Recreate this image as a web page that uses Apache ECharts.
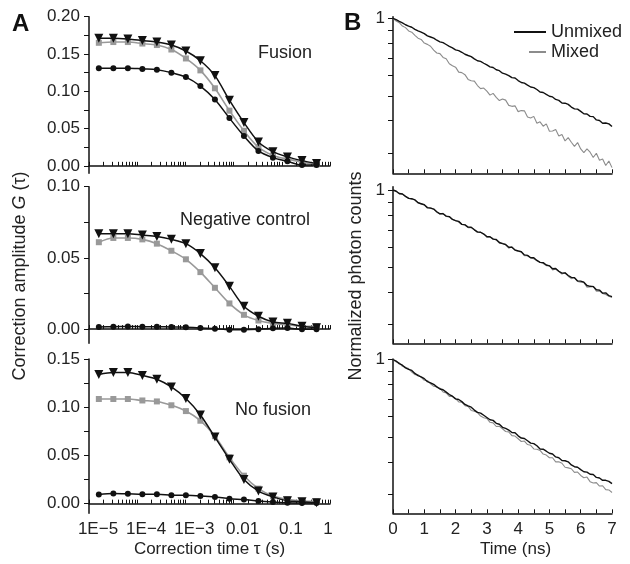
<!DOCTYPE html>
<html>
<head>
<meta charset="utf-8">
<script src="https://cdn.jsdelivr.net/npm/echarts@6/dist/echarts.min.js"></script>
<style>
html, body { margin: 0; padding: 0; background: #fff; }
#main { width: 630px; height: 564px; }
</style>
</head>
<body>
<div id="main"></div>
<script>
var myChart = echarts.init(document.getElementById('main'));
var FONT = 'Liberation Sans';

// ---- panel A: correlation curves ----
// lag times (s)
var tau = [1.6e-5, 3.2e-5, 6.4e-5, 1.28e-4, 2.56e-4, 5.12e-4, 1.024e-3, 2.048e-3,
  4.096e-3, 8.192e-3, 0.016384, 0.032768, 0.065536, 0.131072, 0.262144, 0.524288];

var fusTri  = [0.171, 0.171, 0.170, 0.168, 0.166, 0.162, 0.154, 0.141, 0.121, 0.088, 0.058, 0.032, 0.019, 0.012, 0.007, 0.003];
var fusSq   = [0.165, 0.166, 0.166, 0.164, 0.162, 0.156, 0.144, 0.128, 0.104, 0.074, 0.047, 0.025, 0.014, 0.009, 0.005, 0.002];
var fusCirc = [0.131, 0.131, 0.131, 0.130, 0.129, 0.125, 0.119, 0.107, 0.089, 0.064, 0.040, 0.020, 0.011, 0.006, 0.001, 0.001];

var negTri  = [0.067, 0.067, 0.067, 0.066, 0.065, 0.063, 0.060, 0.053, 0.043, 0.030, 0.016, 0.009, 0.005, 0.004, 0.002, 0.001];
var negSq   = [0.061, 0.064, 0.064, 0.063, 0.060, 0.055, 0.049, 0.040, 0.029, 0.018, 0.010, 0.006, 0.004, 0.003, 0.002, 0.002];
var negCirc = [0.0015, 0.0017, 0.0018, 0.0017, 0.0016, 0.0015, 0.0012, 0.0008, 0.0003, -0.0005, -0.0005, -0.0002, 0.0005, 0.0008, -0.0002, -0.0002];

var noTri   = [0.134, 0.136, 0.136, 0.133, 0.129, 0.121, 0.109, 0.092, 0.069, 0.046, 0.025, 0.013, 0.007, 0.003, 0.002, 0.001];
var noSq    = [0.1085, 0.1085, 0.1085, 0.107, 0.106, 0.102, 0.096, 0.086, 0.070, 0.048, 0.029, 0.0156, 0.008, 0.0045, 0.0027, 0.0024];
var noCirc  = [0.0094, 0.0105, 0.0102, 0.0097, 0.0097, 0.0088, 0.0086, 0.0079, 0.0069, 0.0052, 0.0042, 0.0027, 0.0017, 0.0010, 0.0006, 0.0006];

var aYMax = [0.20, 0.10, 0.15];
var aYLabels = [[0, 0.05, 0.10, 0.15, 0.20], [0, 0.05, 0.10], [0, 0.05, 0.10, 0.15]];
var aYTicks = [[0, 0.025, 0.05, 0.075, 0.10, 0.125, 0.15, 0.175, 0.20],
  [0, 0.025, 0.05, 0.075, 0.10], [0, 0.025, 0.05, 0.075, 0.10, 0.125, 0.15]];
var aXLabels = [1e-5, 1e-4, 1e-3, 0.01, 0.1, 1];
var panelNames = ['Fusion', 'Negative control', 'No fusion'];

// ---- panel B: fluorescence decays (normalized counts, 0.1 ns bins) ----
var tns = [0, 0.1, 0.2, 0.3, 0.4, 0.5, 0.6, 0.7, 0.8, 0.9, 1.0, 1.1, 1.2, 1.3, 1.4, 1.5, 1.6, 1.7, 1.8, 1.9,
  2.0, 2.1, 2.2, 2.3, 2.4, 2.5, 2.6, 2.7, 2.8, 2.9, 3.0, 3.1, 3.2, 3.3, 3.4, 3.5, 3.6, 3.7, 3.8, 3.9,
  4.0, 4.1, 4.2, 4.3, 4.4, 4.5, 4.6, 4.7, 4.8, 4.9, 5.0, 5.1, 5.2, 5.3, 5.4, 5.5, 5.6, 5.7, 5.8, 5.9,
  6.0, 6.1, 6.2, 6.3, 6.4, 6.5, 6.6, 6.7, 6.8, 6.9, 7.0];

var fusUnmixed = [1.000, .988, .972, .960, .944, .933, .923, .906, .893, .883, .872, .855, .846, .837, .822, .810, .804, .791, .778, .768,
  .754, .749, .738, .725, .717, .710, .696, .684, .680, .669, .659, .648, .644, .631, .626, .612, .607, .599, .588, .586,
  .573, .563, .560, .550, .541, .538, .529, .517, .515, .506, .498, .495, .484, .480, .469, .468, .463, .452, .445, .444,
  .435, .426, .425, .416, .415, .403, .401, .391, .392, .389, .380];
var fusMixed = [1.000, .976, .961, .933, .920, .893, .883, .859, .837, .828, .801, .792, .779, .752, .733, .729, .705, .696, .666, .654,
  .646, .618, .615, .604, .579, .572, .570, .548, .533, .536, .521, .503, .511, .493, .479, .486, .481, .459, .455, .457,
  .434, .438, .437, .414, .410, .416, .391, .396, .381, .389, .364, .365, .370, .349, .354, .334, .344, .330, .318, .329,
  .311, .301, .311, .302, .288, .299, .281, .284, .268, .279, .263];
var negUnmixed = [1.000, .989, .969, .965, .945, .928, .925, .915, .892, .884, .876, .854, .850, .843, .823, .808, .808, .791, .788, .768,
  .760, .755, .735, .732, .717, .716, .700, .687, .685, .674, .659, .658, .644, .642, .625, .619, .614, .599, .599, .584,
  .580, .575, .559, .557, .545, .545, .532, .523, .522, .511, .507, .494, .495, .483, .475, .476, .465, .457, .456, .443,
  .442, .438, .425, .422, .421, .409, .408, .397, .398, .388, .385];
var negMixed = [1.000, .991, .966, .966, .944, .930, .921, .916, .895, .882, .876, .851, .852, .844, .819, .807, .811, .789, .785, .770,
  .759, .751, .736, .734, .714, .714, .702, .683, .685, .675, .654, .657, .646, .639, .621, .620, .612, .594, .601, .583,
  .577, .576, .555, .555, .545, .540, .531, .524, .518, .508, .508, .489, .493, .482, .471, .477, .462, .452, .456, .441,
  .438, .437, .419, .420, .422, .404, .405, .396, .392, .386, .382];
var noUnmixed = [1.000, .987, .964, .951, .928, .916, .907, .883, .866, .856, .843, .820, .812, .801, .783, .768, .763, .747, .731, .720,
  .703, .699, .686, .669, .660, .653, .636, .623, .619, .607, .595, .583, .580, .565, .560, .545, .540, .532, .520, .519,
  .505, .495, .493, .483, .473, .471, .462, .449, .448, .440, .432, .429, .418, .415, .405, .404, .400, .389, .383, .381,
  .373, .366, .365, .358, .357, .348, .346, .339, .339, .336, .329];
var noMixed = [1.000, .979, .970, .941, .933, .922, .894, .874, .873, .852, .831, .829, .805, .787, .783, .774, .748, .742, .719, .718,
  .704, .684, .683, .662, .657, .634, .629, .622, .603, .594, .590, .570, .567, .549, .550, .538, .525, .523, .506, .504,
  .492, .480, .482, .467, .464, .449, .448, .443, .429, .425, .415, .415, .400, .400, .395, .381, .379, .376, .364, .365,
  .354, .347, .349, .335, .331, .332, .322, .323, .312, .311, .304];

var bXLabels = [0, 1, 2, 3, 4, 5, 6, 7];
var bXTicks = [0, 0.5, 1, 1.5, 2, 2.5, 3, 3.5, 4, 4.5, 5, 5.5, 6, 6.5, 7];
var bYTicks = [0.3, 0.4, 0.5, 0.6, 0.7, 0.8, 0.9, 1];
var bYMin = [0.25, 0.2533, 0.2523];
var bYMax = [1.0144, 1.030, 1.005];

function pairs(xs, ys) {
  return xs.map(function (x, i) { return [x, ys[i]]; });
}

// log minor ticks for the lag-time axis
var aXTicks = [];
for (var d = -5; d <= 0; d++) {
  for (var m = 1; m <= 9; m++) {
    if (d === 0 && m > 1) break;
    aXTicks.push(+(m * Math.pow(10, d)).toPrecision(3));
  }
}

var gridTop = [16.7, 186.7, 359];
var gridH = [156.6, 156.6, 154.3];
var axisLine = { show: true, lineStyle: { color: '#111', width: 1.5 } };
var txt = { fontFamily: FONT, fontSize: 17, color: '#222' };

var grids = [], xAxes = [], yAxes = [], series = [], titles = [];
var aData = [[fusTri, fusSq, fusCirc], [negTri, negSq, negCirc], [noTri, noSq, noCirc]];
var bData = [[fusUnmixed, fusMixed], [negUnmixed, negMixed], [noUnmixed, noMixed]];
var titleTop = [44, 211, 401];
var titleLeft = [258, 180, 235];

for (var i = 0; i < 3; i++) {
  var last = i === 2;
  // panel A grid
  grids.push({ left: 89, top: gridTop[i], width: 241, height: gridH[i] });
  xAxes.push({
    gridIndex: 2 * i, type: 'log', logBase: 10, min: 1e-5, max: 1,
    axisLine: axisLine, splitLine: { show: false },
    axisTick: { show: true, inside: true, length: 4, customValues: aXTicks, lineStyle: { color: '#111' } },
    axisLabel: {
      show: last, customValues: aXLabels, margin: 8,
      formatter: function (v) {
        if (v >= 1) return '{e|1}';
        if (v >= 0.01) return '{s|' + String(+v.toPrecision(2)) + '}';
        return '{s|1E\u2212' + Math.round(-Math.log10(v)) + '}';
      },
      rich: {
        s: { fontFamily: FONT, fontSize: 17, color: '#222', padding: [0, 0, 0, 18] },
        e: { fontFamily: FONT, fontSize: 17, color: '#222', padding: [0, 4, 0, 0] }
      }
    },
    name: last ? 'Correction time \u03c4 (s)' : '', nameLocation: 'middle', nameGap: 28,
    nameTextStyle: txt
  });
  yAxes.push({
    gridIndex: 2 * i, type: 'value', min: -0.01, max: aYMax[i],
    axisLine: axisLine, splitLine: { show: false },
    axisTick: { show: true, length: 5, customValues: aYTicks[i], lineStyle: { color: '#111' } },
    axisLabel: {
      customValues: aYLabels[i], margin: 9, fontFamily: FONT, fontSize: 17, color: '#222',
      formatter: function (v) { return v.toFixed(2); }
    },
    name: i === 1 ? '{a|Correction amplitude }{g|G}{a| (\u03c4)}' : '',
    nameLocation: 'middle', nameRotate: 90, nameGap: 60,
    nameTextStyle: {
      padding: [0, 22, 0, 0],
      rich: {
        a: { fontFamily: FONT, fontSize: 18, color: '#222' },
        g: { fontFamily: FONT, fontSize: 18, color: '#222', fontStyle: 'italic' }
      }
    }
  });
  var ad = aData[i];
  series.push({
    type: 'line', xAxisIndex: 2 * i, yAxisIndex: 2 * i, data: pairs(tau, ad[1]), smooth: 0.3,
    symbol: 'rect', symbolSize: 6, lineStyle: { color: '#999', width: 1.6 }, itemStyle: { color: '#999' },
    z: 2
  });
  series.push({
    type: 'line', xAxisIndex: 2 * i, yAxisIndex: 2 * i, data: pairs(tau, ad[2]), smooth: 0.3,
    symbol: 'circle', symbolSize: 6, lineStyle: { color: '#111', width: 1.5 }, itemStyle: { color: '#111' },
    z: 3
  });
  series.push({
    type: 'line', xAxisIndex: 2 * i, yAxisIndex: 2 * i, data: pairs(tau, ad[0]), smooth: 0.3,
    symbol: 'triangle', symbolRotate: 180, symbolSize: 9, lineStyle: { color: '#111', width: 1.5 }, itemStyle: { color: '#111' },
    z: 4
  });
  titles.push({
    text: panelNames[i], left: titleLeft[i], top: titleTop[i], padding: 0,
    textStyle: { fontFamily: FONT, fontSize: 18, fontWeight: 'normal', color: '#222' }
  });

  // panel B grid
  grids.push({ left: 393, top: gridTop[i], width: 219, height: gridH[i] });
  xAxes.push({
    gridIndex: 2 * i + 1, type: 'value', min: 0, max: 7,
    axisLine: axisLine, splitLine: { show: false },
    axisTick: { show: true, inside: true, length: 4, customValues: bXTicks, lineStyle: { color: '#111' } },
    axisLabel: { show: last, customValues: bXLabels, margin: 8, fontFamily: FONT, fontSize: 17, color: '#222' },
    name: last ? 'Time (ns)' : '', nameLocation: 'middle', nameGap: 28,
    nameTextStyle: { fontFamily: FONT, fontSize: 17, color: '#222', padding: [0, 0, 0, 26] }
  });
  yAxes.push({
    gridIndex: 2 * i + 1, type: 'log', logBase: 10, min: bYMin[i], max: bYMax[i],
    axisLine: axisLine, splitLine: { show: false },
    axisTick: { show: true, length: 5, customValues: bYTicks, lineStyle: { color: '#111' } },
    axisLabel: { customValues: [1], margin: 8, fontFamily: FONT, fontSize: 17, color: '#222',
      formatter: function () { return '1'; } },
    name: i === 1 ? 'Normalized photon counts' : '',
    nameLocation: 'middle', nameRotate: 90, nameGap: 28,
    nameTextStyle: { fontFamily: FONT, fontSize: 18, color: '#222', padding: [0, 22, 0, 0] }
  });
  series.push({
    name: 'Mixed', type: 'line', xAxisIndex: 2 * i + 1, yAxisIndex: 2 * i + 1, data: pairs(tns, bData[i][1]),
    showSymbol: false, symbol: 'none', lineStyle: { color: '#8c8c8c', width: 1.1 }, itemStyle: { color: '#8c8c8c' },
    z: 2
  });
  series.push({
    name: 'Unmixed', type: 'line', xAxisIndex: 2 * i + 1, yAxisIndex: 2 * i + 1, data: pairs(tns, bData[i][0]),
    showSymbol: false, symbol: 'none', lineStyle: { color: '#111', width: 1.4 }, itemStyle: { color: '#111' },
    z: 3
  });
}

titles.push({ text: 'A', left: 12, top: 12, padding: 0,
  textStyle: { fontFamily: FONT, fontSize: 24, fontWeight: 'bold', color: '#111' } });
titles.push({ text: 'B', left: 344, top: 11, padding: 0,
  textStyle: { fontFamily: FONT, fontSize: 24, fontWeight: 'bold', color: '#111' } });

option = {
  backgroundColor: '#fff',
  animation: false,
  title: titles,
  legend: {
    data: [
      { name: 'Unmixed', icon: 'rect', itemStyle: { color: '#111' } },
      { name: 'Mixed', icon: 'path://M0,0 M15,0 L32,0 L32,2 L15,2 Z', itemStyle: { color: '#8c8c8c' } }
    ],
    orient: 'vertical', left: 514, top: 23,
    itemWidth: 32, itemHeight: 2, itemGap: 2, padding: 0, selectedMode: false,
    textStyle: { fontFamily: FONT, fontSize: 18, color: '#222' }
  },
  grid: grids,
  xAxis: xAxes,
  yAxis: yAxes,
  series: series
};
myChart.setOption(option);
</script>
</body>
</html>
